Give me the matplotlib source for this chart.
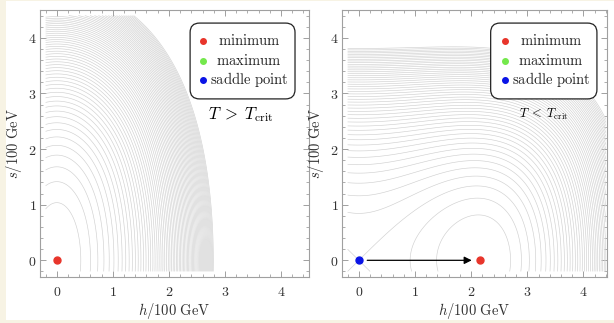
import numpy as np
import matplotlib
matplotlib.use("Agg")
import matplotlib.pyplot as plt
from matplotlib.patches import Rectangle, FancyBboxPatch
from matplotlib.ticker import MultipleLocator, FuncFormatter

plt.rcParams['mathtext.fontset'] = 'cm'
plt.rcParams['font.family'] = 'serif'
plt.rcParams['font.serif'] = ['DejaVu Serif']

# potential coefficients (units of 100 GeV), V = a h^2 + b h^4 + c s^2 + d s^4 + e h^2 s^2
coef_high = [5.4, 0.36, 0.85, 0.075, 0.22]      # T > T_crit
coef_low = [-2.305, 0.25, 2.3, 0.224, 0.06]     # T < T_crit
levels_high = np.arange(1, 65) * 1.0
levels_low = np.arange(-2, 47) * 1.75

domain = [-0.2, 4.4]

# stationary points
min_high = [0.0, 0.0]
min_low = [2.15, 0.0]
saddle_low = [0.0, 0.0]

legend_labels = ['minimum', 'maximum', 'saddle point']
legend_colors = ['#e8352b', '#74e84c', '#0a14e6']

line_col = '#d0d0d0'
frame_col = '#a0a0a0'
text_col = '#333333'


def potential(h, s, cf):
    a, b, c, d, e = cf
    return a*h**2 + b*h**4 + c*s**2 + d*s**4 + e*h**2*s**2


hh = np.linspace(domain[0], domain[1], 500)
H, S = np.meshgrid(hh, hh)

fig = plt.figure(figsize=(6.14, 3.23), dpi=100)
fig.patch.set_facecolor('#f7f3e4')
fig.patches.append(Rectangle((6/614, 3/323), 1, 319/323, transform=fig.transFigure,
                             facecolor='white', edgecolor='none', zorder=-10))

ax1 = fig.add_axes([40/614, 46/323, 269/614, 267/323])
ax2 = fig.add_axes([342/614, 46/323, 265/614, 267/323])


def style(ax, xmax):
    ax.set_xlim(-0.3, xmax)
    ax.set_ylim(-0.3, 4.5)
    for sp in ax.spines.values():
        sp.set_color(frame_col)
        sp.set_linewidth(0.8)
    ax.xaxis.set_major_locator(MultipleLocator(1))
    ax.yaxis.set_major_locator(MultipleLocator(1))
    ax.xaxis.set_minor_locator(MultipleLocator(0.2))
    ax.yaxis.set_minor_locator(MultipleLocator(0.2))
    fmt = FuncFormatter(lambda v, p: '$%d$' % round(v))
    ax.xaxis.set_major_formatter(fmt)
    ax.yaxis.set_major_formatter(fmt)
    ax.tick_params(which='both', direction='in', top=True, right=True, color=frame_col,
                   labelsize=10, labelcolor=text_col)
    ax.tick_params(axis='x', which='major', pad=6)
    ax.tick_params(axis='y', which='major', pad=2.5)
    ax.tick_params(which='major', length=4, width=0.7)
    ax.tick_params(which='minor', length=2, width=0.6)
    ax.set_xlabel(r'$h/100\ \mathrm{GeV}$', fontsize=10.5, color=text_col, labelpad=1.5)
    ax.set_ylabel(r'$s/100\ \mathrm{GeV}$', fontsize=10.5, color=text_col, labelpad=3)


def legend_box(ax, x0, x1, xm, xt):
    box = FancyBboxPatch((x0, 0.667), x1 - x0, 0.951 - 0.667, transform=ax.transAxes,
                         boxstyle='round,pad=0,rounding_size=0.035', facecolor='white',
                         edgecolor='#222222', linewidth=0.9, zorder=6)
    ax.add_patch(box)
    rows = [0.884, 0.809, 0.738]
    for lab, col, y in zip(legend_labels, legend_colors, rows):
        ax.plot(xm, y, 'o', color=col, ms=4, transform=ax.transAxes, zorder=7, clip_on=False)
        ax.text(xt, y, r'$\mathrm{%s}$' % lab.replace(' ', r'\ '), transform=ax.transAxes,
                fontsize=10.5, ha='center', va='center', color='#222222', zorder=7)


# left panel
ax1.contour(H, S, potential(H, S, coef_high), levels=levels_high, colors=line_col, linewidths=0.45)
ax1.plot(*min_high, 'o', color=legend_colors[0], ms=5, zorder=5)
style(ax1, 4.5)
legend_box(ax1, 0.558, 0.948, 0.606, 0.777)
ax1.text(0.747, 0.607, r'$T\;>\;T_{\mathrm{crit}}$', transform=ax1.transAxes, fontsize=12,
         ha='center', va='center', zorder=8)

# right panel
ax2.contour(H, S, potential(H, S, coef_low), levels=levels_low, colors=line_col,
            linewidths=0.45, negative_linestyles='solid')
ax2.annotate('', xy=(min_low[0] - 0.09, 0), xytext=(saddle_low[0] + 0.1, 0),
             arrowprops=dict(arrowstyle='-|>', color='k', lw=0.9, mutation_scale=11))
ax2.plot(*saddle_low, 'o', color=legend_colors[2], ms=5, zorder=5)
ax2.plot(*min_low, 'o', color=legend_colors[0], ms=5, zorder=5)
style(ax2, 4.42)
legend_box(ax2, 0.561, 0.962, 0.615, 0.789)
ax2.text(0.762, 0.607, r'$T\;<\;T_{\mathrm{crit}}$', transform=ax2.transAxes, fontsize=9,
         ha='center', va='center', zorder=8)

fig.savefig('out.png', dpi=100, facecolor=fig.get_facecolor())
